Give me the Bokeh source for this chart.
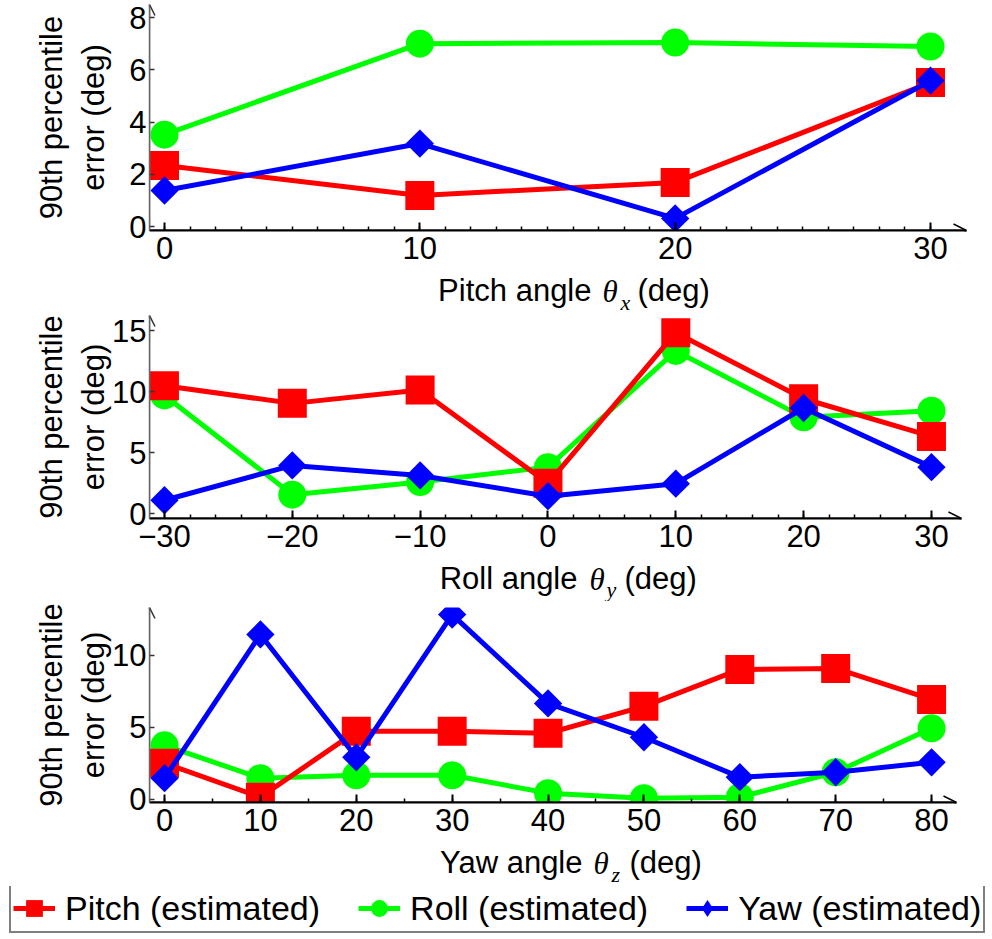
import numpy as np
from bokeh.plotting import figure
from bokeh.models import FixedTicker, Arrow, OpenHead, Label, Legend, LegendItem, Range1d
from bokeh.layouts import column
from bokeh.embed import file_html
from bokeh.resources import INLINE

# ---------------- data ----------------
series_names = ["Pitch (estimated)", "Roll (estimated)", "Yaw (estimated)"]
y_title = "90th percentile\nerror (deg)"
x_titles = [("Pitch angle", "x"), ("Roll angle", "y"), ("Yaw angle", "z")]

pitch_angles = [0, 10, 20, 30]
pitch_panel_pitch = [2.34, 1.19, 1.69, 5.52]
pitch_panel_roll = [3.52, 7.01, 7.05, 6.90]
pitch_panel_yaw = [1.38, 3.18, 0.31, 5.59]

roll_angles = [-30, -20, -10, 0, 10, 20, 30]
roll_panel_pitch = [10.5, 9.05, 10.15, 2.48, 14.86, 9.43, 6.33]
roll_panel_roll = [9.7, 1.55, 2.59, 3.81, 13.36, 7.9, 8.45]
roll_panel_yaw = [1.09, 3.95, 3.13, 1.42, 2.45, 8.67, 3.81]

yaw_angles = [0, 10, 20, 30, 40, 50, 60, 70, 80]
yaw_panel_pitch = [2.52, 0.16, 4.73, 4.73, 4.6, 6.47, 9.03, 9.1, 6.95]
yaw_panel_roll = [3.76, 1.48, 1.68, 1.68, 0.44, 0.09, 0.16, 1.89, 4.94]
yaw_panel_yaw = [1.48, 11.46, 2.93, 12.84, 6.67, 4.32, 1.55, 1.89, 2.58]

pitch_xticks = [0, 10, 20, 30]
pitch_xminor = list(range(0, 31, 1))
pitch_yticks = [0, 2, 4, 6, 8]
roll_xticks = [-30, -20, -10, 0, 10, 20, 30]
roll_xminor = list(range(-30, 31, 2))
roll_yticks = [0, 5, 10, 15]
yaw_xticks = [0, 10, 20, 30, 40, 50, 60, 70, 80]
yaw_xminor = list(range(0, 81, 5))
yaw_yticks = [0, 5, 10]

# ---------------- style ----------------
COLORS = {"pitch": "#ff0000", "roll": "#00ff00", "yaw": "#0000ff"}
MARKERS = {"pitch": ("square", 29, 0.0), "roll": ("circle", 28, 0.0), "yaw": ("square", 20, np.pi / 4)}
LEGEND_MARKERS = {"pitch": "square", "roll": "circle", "yaw": "diamond"}
FONT = "Liberation Sans"
SERIF = "Liberation Serif"
PAGE_W = 992
FL = 149  # frame left (px) -- shared by every figure of the inner column


def make_panel(xs, series, xr, yr, xticks, xminor, yticks, fw, fh, top, bottom, ystandoff):
    p = figure(frame_width=fw, frame_height=fh,
               min_border_left=FL, min_border_right=PAGE_W - FL - fw,
               min_border_top=top, min_border_bottom=bottom,
               x_range=Range1d(*xr), y_range=Range1d(*yr),
               output_backend="svg", toolbar_location=None)
    p.grid.visible = False
    p.outline_line_color = None
    p.background_fill_color = "white"
    p.border_fill_color = "white"

    p.xaxis.ticker = FixedTicker(ticks=xticks, minor_ticks=xminor)
    p.yaxis.ticker = FixedTicker(ticks=yticks, minor_ticks=[])
    for ax in (p.xaxis, p.yaxis):
        ax.major_label_text_font = FONT
        ax.major_label_text_font_size = "31px"
        ax.major_label_text_color = "black"
        ax.major_tick_out = 0
        ax.minor_tick_out = 0
    p.xaxis.axis_line_color = "black"
    p.xaxis.axis_line_width = 2
    p.xaxis.major_tick_in = 8
    p.xaxis.major_tick_line_width = 2
    p.xaxis.minor_tick_in = 4
    p.xaxis.minor_tick_line_width = 1.5
    p.xaxis.major_tick_line_color = "black"
    p.xaxis.minor_tick_line_color = "black"
    p.xaxis.major_label_standoff = 6

    p.yaxis.axis_line_color = "#666666"
    p.yaxis.axis_line_width = 1.5
    p.yaxis.major_tick_in = 5
    p.yaxis.major_tick_line_color = "#333333"
    p.yaxis.major_tick_line_width = 1.5
    p.yaxis.minor_tick_line_color = None
    p.yaxis.major_label_standoff = 3
    p.yaxis.axis_label = y_title
    p.yaxis.axis_label_text_font = FONT
    p.yaxis.axis_label_text_font_size = "31px"
    p.yaxis.axis_label_text_font_style = "normal"
    p.yaxis.axis_label_text_color = "black"
    p.yaxis.axis_label_standoff = ystandoff

    # axis arrow heads
    p.add_layout(Arrow(end=OpenHead(size=13, line_width=1.5, line_color="black"),
                       x_start=xr[0], y_start=yr[0], x_end=xr[1], y_end=yr[0],
                       line_color="black", line_width=2))
    p.add_layout(Arrow(end=OpenHead(size=11, line_width=1.5, line_color="#333333"),
                       x_start=xr[0], y_start=yr[0], x_end=xr[0], y_end=yr[1],
                       line_color="#666666", line_width=1.5))

    for key in ("roll", "pitch", "yaw"):
        marker, size, ang = MARKERS[key]
        p.line(xs, series[key], line_color=COLORS[key], line_width=5)
        p.scatter(xs, series[key], marker=marker, size=size, angle=ang,
                  fill_color=COLORS[key], line_color=COLORS[key], line_width=0)
    return p


def make_title(title, h, px_main, px_theta, px_sub, px_deg, y_main, y_theta, y_sub):
    """x positions are page pixels; y positions are label centres from the strip bottom."""
    main, sub = title
    t = figure(width=PAGE_W, height=h, x_range=Range1d(0, PAGE_W), y_range=Range1d(0, h),
               x_axis_location=None, y_axis_location=None, min_border=0,
               output_backend="svg", toolbar_location=None)
    t.grid.visible = False
    t.outline_line_color = None
    common = dict(x_units="screen", y_units="screen", text_baseline="middle",
                  text_color="black")
    t.add_layout(Label(x=px_main - FL, y=y_main, text=main, text_font=FONT,
                       text_font_size="31px", text_align="right", **common))
    t.add_layout(Label(x=px_theta - FL, y=y_theta, text="θ", text_font=SERIF,
                       text_font_size="31px", text_font_style="italic",
                       text_align="left", **common))
    t.add_layout(Label(x=px_sub - FL, y=y_sub, text=sub, text_font=SERIF,
                       text_font_size="22px", text_font_style="italic",
                       text_align="left", **common))
    t.add_layout(Label(x=px_deg - FL, y=y_main, text="(deg)", text_font=FONT,
                       text_font_size="31px", text_align="left", **common))
    return t


# page layout (pixels from page top):
# p1 0-272 (frame 4-230), t1 272-314, p2 314-560 (frame 315-518),
# t2 560-601, p3 601-844 (frame 607-802), t3 844-886, legend strip 886-939
p1 = make_panel(pitch_angles,
                {"pitch": pitch_panel_pitch, "roll": pitch_panel_roll, "yaw": pitch_panel_yaw},
                (-0.588, 31.41), (-0.153, 8.51), pitch_xticks, pitch_xminor, pitch_yticks,
                817, 226, 4, 42, 15)
t1 = make_title(x_titles[0], 42, 591, 602, 620, 637, 23.7, 23.5, 12.4)
p2 = make_panel(roll_angles,
                {"pitch": roll_panel_pitch, "roll": roll_panel_roll, "yaw": roll_panel_yaw},
                (-31.17, 32.35), (-0.41, 16.27), roll_xticks, roll_xminor, roll_yticks,
                812, 203, 1, 42, -2)
t2 = make_title(x_titles[1], 41, 577, 589, 606, 624, 22.7, 22.5, 12.4)
p3 = make_panel(yaw_angles,
                {"pitch": yaw_panel_pitch, "roll": yaw_panel_roll, "yaw": yaw_panel_yaw},
                (-1.567, 82.6), (-0.21, 13.33), yaw_xticks, yaw_xminor, yaw_yticks,
                807, 195, 6, 42, -2)
t3 = make_title(x_titles[2], 42, 582, 593, 611, 629, 23.7, 23.5, 12.4)

# legend strip (renderers carry data but are hidden; only the legend shows)
pleg = figure(width=PAGE_W, height=53, x_range=Range1d(-1, 31), y_range=Range1d(0, 8),
              x_axis_location=None, y_axis_location=None, min_border=0,
              output_backend="svg", toolbar_location=None)
pleg.grid.visible = False
pleg.outline_line_color = None
leg_series = {"pitch": pitch_panel_pitch, "roll": pitch_panel_roll, "yaw": pitch_panel_yaw}
items = []
for name, key in zip(series_names, ("pitch", "roll", "yaw")):
    ln = pleg.line(pitch_angles, leg_series[key], line_color=COLORS[key], line_width=5,
                   visible=False)
    sc = pleg.scatter(pitch_angles, leg_series[key], marker=LEGEND_MARKERS[key], size=20,
                      fill_color=COLORS[key], line_color=COLORS[key], line_width=0,
                      visible=False)
    items.append(LegendItem(label=name, renderers=[ln, sc]))
legend = Legend(items=items, orientation="horizontal", location=(9, 6),
                label_text_font=FONT, label_text_font_size="34px", label_text_color="black",
                glyph_width=42, glyph_height=42, label_standoff=10, spacing=38,
                padding=2, margin=0, border_line_color="black", border_line_width=2,
                background_fill_color="white", background_fill_alpha=1,
                inactive_fill_alpha=0)
pleg.add_layout(legend)

panels = column(p1, t1, p2, t2, p3, t3, spacing=0)
layout = column(panels, pleg, spacing=0)
open("out.html", "w").write(file_html(layout, INLINE))
